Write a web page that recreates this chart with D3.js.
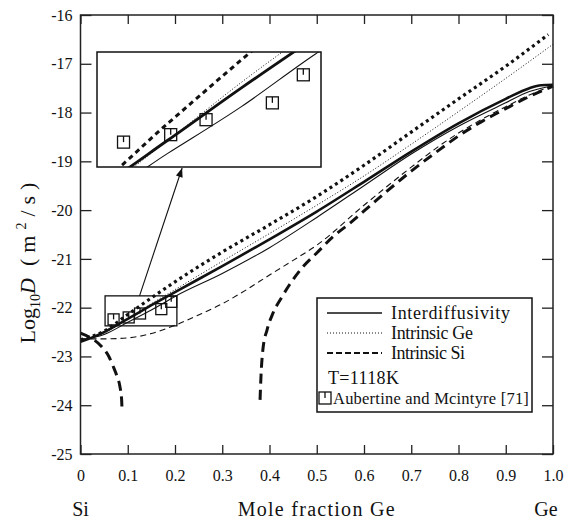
<!DOCTYPE html>
<html><head><meta charset="utf-8">
<script src="https://cdn.jsdelivr.net/npm/d3@7"></script>
<style>
body{margin:0;background:#fff}
svg{display:block}
text{font-family:"Liberation Serif","Times New Roman",serif;fill:#111}
</style>
</head><body>
<svg id="c" width="565" height="519"></svg>
<script>
// ---------- data ----------
const xTicks = [0,0.1,0.2,0.3,0.4,0.5,0.6,0.7,0.8,0.9,1.0];
const xTickLabels = ["0","0.1","0.2","0.3","0.4","0.5","0.6","0.7","0.8","0.9","1.0"];
const yTicks = [-16,-17,-18,-19,-20,-21,-22,-23,-24,-25];
const yTickLabels = ["-16","-17","-18","-19","-20","-21","-22","-23","-24","-25"];

// Interdiffusivity (thick and thin solid)
const interThick = [[0,-22.7],[0.02,-22.63],[0.05,-22.5],[0.1,-22.23],[0.15,-21.95],[0.2,-21.68],[0.3,-21.15],[0.4,-20.6],[0.5,-20.03],[0.6,-19.42],[0.7,-18.8],[0.8,-18.22],[0.9,-17.72],[0.95,-17.5],[0.975,-17.44],[1.0,-17.43]];
const interThin = [[0,-22.66],[0.05,-22.55],[0.1,-22.3],[0.15,-22.05],[0.2,-21.77],[0.3,-21.3],[0.4,-20.77],[0.5,-20.15],[0.6,-19.5],[0.7,-18.85],[0.8,-18.28],[0.9,-17.8],[0.95,-17.57],[1.0,-17.45]];
// Intrinsic Ge (thick and thin dotted)
const geThick = [[0,-22.66],[0.05,-22.48],[0.1,-22.14],[0.15,-21.8],[0.2,-21.47],[0.3,-20.86],[0.4,-20.3],[0.5,-19.72],[0.6,-19.08],[0.7,-18.4],[0.8,-17.72],[0.9,-17.05],[0.99,-16.4]];
const geThin = [[0,-22.66],[0.05,-22.52],[0.1,-22.23],[0.15,-21.92],[0.2,-21.63],[0.3,-21.05],[0.4,-20.48],[0.5,-19.9],[0.6,-19.3],[0.7,-18.65],[0.8,-17.98],[0.9,-17.3],[1.0,-16.6]];
// Intrinsic Si (thin dashed, thick dashed two branches)
const siThin = [[0,-22.64],[0.05,-22.64],[0.1,-22.62],[0.15,-22.53],[0.2,-22.36],[0.25,-22.15],[0.3,-21.92],[0.35,-21.64],[0.4,-21.33],[0.45,-21.03],[0.5,-20.72],[0.6,-19.9],[0.7,-19.12],[0.76,-18.68],[0.8,-18.42],[0.9,-17.88],[0.95,-17.64],[1.0,-17.45]];
const siThickLow = [[0,-22.52],[0.02,-22.61],[0.045,-22.8],[0.06,-23.0],[0.069,-23.2],[0.077,-23.4],[0.0835,-23.62],[0.087,-23.88],[0.088,-24.14]];
const siThickHigh = [[0.38,-23.89],[0.382,-23.4],[0.386,-22.86],[0.395,-22.45],[0.407,-22.12],[0.425,-21.8],[0.443,-21.52],[0.47,-21.17],[0.5,-20.88],[0.534,-20.55],[0.57,-20.27],[0.62,-19.85],[0.7,-19.2],[0.76,-18.76],[0.8,-18.48],[0.85,-18.18],[0.9,-17.92],[0.95,-17.67],[1.0,-17.46]];

// Experimental points (Aubertine and Mcintyre)
const pointX = [0.070,0.102,0.126,0.171,0.192];
const pointY = [-22.24,-22.20,-22.12,-22.03,-21.88];

// zoomed region shown in the inset
const zoomX = [0.052,0.204];
const zoomY = [-22.373,-21.758];

const legendLabels = ["Interdiffusivity","Intrinsic Ge","Intrinsic Si"];
const tempLabel = "T=1118K";
const pointLabel = "Aubertine and Mcintyre [71]";

// ---------- drawing ----------
const FONT = '"Liberation Serif","Times New Roman",serif';
const svg = d3.select('#c');
const L = 80.5, R = 553, T = 15, B = 454;
const x = d3.scaleLinear().domain([0,1]).range([L,R]);
const y = d3.scaleLinear().domain([-25,-16]).range([B,T]);

function fit(sel, target){
  const n = sel.node();
  const w = n.getComputedTextLength();
  const c = n.textContent.length;
  if (c>1) sel.attr('letter-spacing', ((target-w)/(c-1)).toFixed(2));
}

const mainStyles = [
  {data:siThin, w:1.1, dash:"6,4"},
  {data:siThickLow, w:3, dash:"10,6"},
  {data:siThickHigh, w:3, dash:"10,6"},
  {data:geThin, w:1, dash:"1,2"},
  {data:geThick, w:3.2, dash:"3,3.5"},
  {data:interThin, w:1.1, dash:null},
  {data:interThick, w:2.6, dash:null}
];
const line = d3.line().x(d=>x(d[0])).y(d=>y(d[1])).curve(d3.curveMonotoneX);
const gLines = svg.append('g');
mainStyles.forEach(s=>{
  gLines.append('path').attr('d', line(s.data)).attr('fill','none')
    .attr('stroke','#111').attr('stroke-width',s.w)
    .attr('stroke-dasharray', s.dash);
});

function symbol(g, cx, cy, s){
  g.append('rect').attr('x',cx-s/2).attr('y',cy-s/2).attr('width',s).attr('height',s)
    .attr('fill','none').attr('stroke','#111').attr('stroke-width',1.3);
  g.append('line').attr('x1',cx).attr('x2',cx).attr('y1',cy-s/2).attr('y2',cy)
    .attr('stroke','#111').attr('stroke-width',1.3);
}
const gPts = svg.append('g');
pointX.forEach((px,i)=> symbol(gPts, x(px), y(pointY[i]), 11));

// small zoom rectangle
const zx0 = x(zoomX[0]), zx1 = x(zoomX[1]), zy0 = y(zoomY[1]), zy1 = y(zoomY[0]);
svg.append('rect').attr('x',zx0).attr('y',zy0).attr('width',zx1-zx0).attr('height',zy1-zy0)
  .attr('fill','none').attr('stroke','#111').attr('stroke-width',1.3);

// inset
const IX = 97, IY = 52, IW = 224, IH = 115;
const xi = d3.scaleLinear().domain(zoomX).range([IX, IX+IW]);
const yi = d3.scaleLinear().domain(zoomY).range([IY+IH, IY]);
svg.append('defs').append('clipPath').attr('id','ic').append('rect')
  .attr('x',IX).attr('y',IY).attr('width',IW).attr('height',IH);
svg.append('rect').attr('x',IX).attr('y',IY).attr('width',IW).attr('height',IH).attr('fill','#fff');
const lineI = d3.line().x(d=>xi(d[0])).y(d=>yi(d[1])).curve(d3.curveMonotoneX);
const insetStyles = [
  {data:geThin, w:1, dash:"1,2"},
  {data:geThick, w:3, dash:"5,4"},
  {data:interThin, w:1.1, dash:null},
  {data:interThick, w:2.8, dash:null}
];
const gIn = svg.append('g').attr('clip-path','url(#ic)');
insetStyles.forEach(s=>{
  gIn.append('path').attr('d', lineI(s.data)).attr('fill','none')
    .attr('stroke','#111').attr('stroke-width',s.w).attr('stroke-dasharray',s.dash);
});
const gInP = svg.append('g');
pointX.forEach((px,i)=> symbol(gInP, xi(px), yi(pointY[i]), 12));
svg.append('rect').attr('x',IX).attr('y',IY).attr('width',IW).attr('height',IH)
  .attr('fill','none').attr('stroke','#111').attr('stroke-width',1.5);

// arrow from small rect to inset
const ax0 = zx0 + 0.48*(zx1-zx0), ay0 = zy0;
const ax1 = IX + 0.38*IW, ay1 = IY+IH+1;
svg.append('line').attr('x1',ax0).attr('y1',ay0).attr('x2',ax1).attr('y2',ay1)
  .attr('stroke','#111').attr('stroke-width',1.1);
{
  const dx = ax1-ax0, dy = ay1-ay0, len = Math.hypot(dx,dy);
  const ux = dx/len, uy = dy/len, hl = 9, hw = 3.5;
  const bx = ax1-ux*hl, by = ay1-uy*hl;
  svg.append('path').attr('d',`M${ax1},${ay1}L${bx-uy*hw},${by+ux*hw}L${bx+uy*hw},${by-ux*hw}Z`).attr('fill','#111');
}

// legend
const LX = 317, LY = 298, LW = 215, LH = 114;
svg.append('rect').attr('x',LX).attr('y',LY).attr('width',LW).attr('height',LH)
  .attr('fill','#fff').attr('stroke','#111').attr('stroke-width',1.5);
const legStyles = [{w:1.5,dash:null},{w:1,dash:"1,2"},{w:2,dash:"6,3"}];
const legWidths = [119,82,74];
legendLabels.forEach((t,i)=>{
  const cy = 313 + i*20;
  svg.append('line').attr('x1',327).attr('x2',382).attr('y1',cy).attr('y2',cy)
    .attr('stroke','#111').attr('stroke-width',legStyles[i].w).attr('stroke-dasharray',legStyles[i].dash);
  const tx = svg.append('text').attr('x',391).attr('y',cy+6).attr('font-size',18).text(t);
  fit(tx, legWidths[i]);
});
fit(svg.append('text').attr('x',328).attr('y',384).attr('font-size',18).text(tempLabel), 71);
symbol(svg.append('g'), 325, 398, 12);
fit(svg.append('text').attr('x',333).attr('y',404).attr('font-size',16.5).text(pointLabel), 196);

// frame
svg.append('rect').attr('x',L).attr('y',T).attr('width',R-L).attr('height',B-T)
  .attr('fill','none').attr('stroke','#222').attr('stroke-width',1.5);

// axes
function styleAxis(g){
  g.attr('font-family',FONT).attr('font-size',16).style('color','#222');
  g.select('.domain').remove();
  g.selectAll('.tick line').attr('stroke-width',1.3);
}
svg.append('g').attr('transform',`translate(0,${B})`)
  .call(d3.axisBottom(x).tickValues(xTicks).tickFormat((d,i)=>xTickLabels[i]).tickSize(-9).tickSizeOuter(0).tickPadding(16))
  .call(styleAxis);
svg.append('g').attr('transform',`translate(0,${T})`)
  .call(d3.axisTop(x).tickValues(xTicks).tickFormat('').tickSize(-9).tickSizeOuter(0))
  .call(styleAxis);
svg.append('g').attr('transform',`translate(${L},0)`)
  .call(d3.axisLeft(y).tickValues(yTicks).tickFormat((d,i)=>yTickLabels[i]).tickSize(-11).tickSizeOuter(0).tickPadding(8))
  .call(styleAxis);
svg.append('g').attr('transform',`translate(${R},0)`)
  .call(d3.axisRight(y).tickValues(yTicks).tickFormat('').tickSize(-11).tickSizeOuter(0))
  .call(styleAxis);

// axis titles
svg.append('text').attr('x',x(0)).attr('y',516).attr('text-anchor','middle').attr('font-size',20).text('Si');
svg.append('text').attr('x',546).attr('y',516).attr('text-anchor','middle').attr('font-size',20).text('Ge');
fit(svg.append('text').attr('x',(L+R)/2).attr('y',516).attr('text-anchor','middle').attr('font-size',20).text('Mole fraction Ge'), 157);

const yl = svg.append('text').attr('transform','translate(35,260) rotate(-90)')
  .attr('text-anchor','middle').attr('font-size',22);
yl.append('tspan').text('Log');
yl.append('tspan').attr('font-size',14).attr('dy',5).text('10');
yl.append('tspan').attr('font-style','italic').attr('dy',-5).text('D');
yl.append('tspan').attr('dx',12).attr('letter-spacing',6).text('(m');
yl.append('tspan').attr('font-size',14).attr('letter-spacing',6).attr('dy',-9).text('2');
yl.append('tspan').attr('dy',9).attr('letter-spacing',6).text('/s)');
</script>
</body></html>
